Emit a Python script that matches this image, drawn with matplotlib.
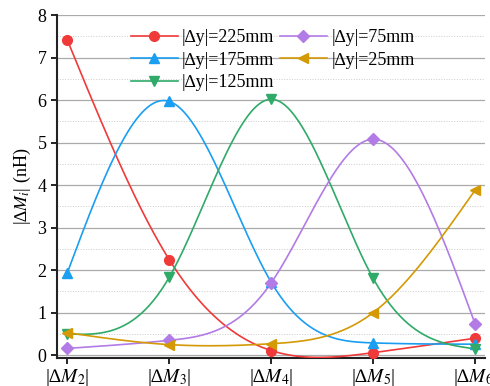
import matplotlib
matplotlib.use("Agg")
import matplotlib.pyplot as plt
from matplotlib.ticker import MultipleLocator
import numpy as np

plt.rcParams['font.family'] = ['Liberation Serif', 'DejaVu Serif']
plt.rcParams['mathtext.fontset'] = 'stix'

x_labels = ['|∆$M_2$|', '|∆$M_3$|', '|∆$M_4$|', '|∆$M_5$|', '|∆$M_6$|']
series_names = ['|∆y|=225mm', '|∆y|=175mm', '|∆y|=125mm', '|∆y|=75mm', '|∆y|=25mm']
dy225 = [7.42, 2.25, 0.11, 0.06, 0.40]
dy175 = [1.93, 5.97, 1.72, 0.29, 0.26]
dy125 = [0.50, 1.83, 6.02, 1.81, 0.15]
dy75 = [0.16, 0.35, 1.70, 5.08, 0.74]
dy25 = [0.53, 0.25, 0.27, 1.00, 3.88]

colors = ['#F03A3A', '#1A9EF2', '#2FAA68', '#B27BE6', '#D49A05']
markers = ['o', '^', 'v', 'D', '<']
msizes = [7, 7, 7, 6, 7]


def natural_spline(x, y, n=200):
  # natural cubic spline, only used to draw the smooth connecting line
  x = np.asarray(x, float); y = np.asarray(y, float)
  k = len(x)
  h = np.diff(x)
  A = np.zeros((k, k)); r = np.zeros(k)
  A[0, 0] = 1; A[-1, -1] = 1
  for i in range(1, k-1):
    A[i, i-1] = h[i-1]; A[i, i] = 2*(h[i-1]+h[i]); A[i, i+1] = h[i]
    r[i] = 6*((y[i+1]-y[i])/h[i] - (y[i]-y[i-1])/h[i-1])
  M = np.linalg.solve(A, r)
  xs = np.linspace(x[0], x[-1], n)
  idx = np.clip(np.searchsorted(x, xs) - 1, 0, k-2)
  x0, x1 = x[idx], x[idx+1]; hh = x1 - x0
  ys = (M[idx]*(x1-xs)**3/(6*hh) + M[idx+1]*(xs-x0)**3/(6*hh)
        + (y[idx]/hh - M[idx]*hh/6)*(x1-xs) + (y[idx+1]/hh - M[idx+1]*hh/6)*(xs-x0))
  return xs, ys


fig = plt.figure(figsize=(4.9, 3.86), dpi=100)
ax = fig.add_axes([0.1163, 0.072, 0.874, 0.889])

xpos = np.arange(len(x_labels))
for vals, name, c, m, ms in zip([dy225, dy175, dy125, dy75, dy25], series_names, colors, markers, msizes):
  xs, ys = natural_spline(xpos, vals)
  ax.plot(xs, ys, color=c, lw=1.2, zorder=3)
  ax.plot(xpos, vals, ls='none', marker=m, ms=ms, color=c, zorder=4)
  ax.plot([], [], color=c, lw=1.2, marker=m, ms=ms, label=name)

ax.set_xlim(-0.1, 4.1)
ax.set_ylim(-0.07, 8)
ax.set_xticks(xpos)
ax.set_xticklabels(x_labels, fontsize=14)
ax.yaxis.set_major_locator(MultipleLocator(1))
ax.yaxis.set_minor_locator(MultipleLocator(0.5))
ax.tick_params(axis='y', which='minor', length=0)
ax.tick_params(axis='both', which='major', direction='out', length=4, width=1.2, labelsize=13)
ax.tick_params(axis='x', labelsize=14, pad=2)
ax.grid(True, which='major', axis='y', color='#AAAAAA', lw=0.9, zorder=0)
ax.grid(True, which='minor', axis='y', color='#CCCCCC', lw=0.7, ls=':', zorder=0)
ax.set_axisbelow(True)
for s in ['top', 'right']:
  ax.spines[s].set_visible(False)
for s in ['left', 'bottom']:
  ax.spines[s].set_linewidth(1.5)
  ax.spines[s].set_color('#222222')
ax.set_ylabel('|∆$M_i$| (nH)', fontsize=13, labelpad=3)

ax.legend(loc='upper left', bbox_to_anchor=(0.155, 0.98), ncol=2, frameon=False,
          fontsize=13, handlelength=2.6, handletextpad=0.25, columnspacing=0.3,
          labelspacing=0.3, borderaxespad=0)

fig.savefig('out.png', dpi=100)
